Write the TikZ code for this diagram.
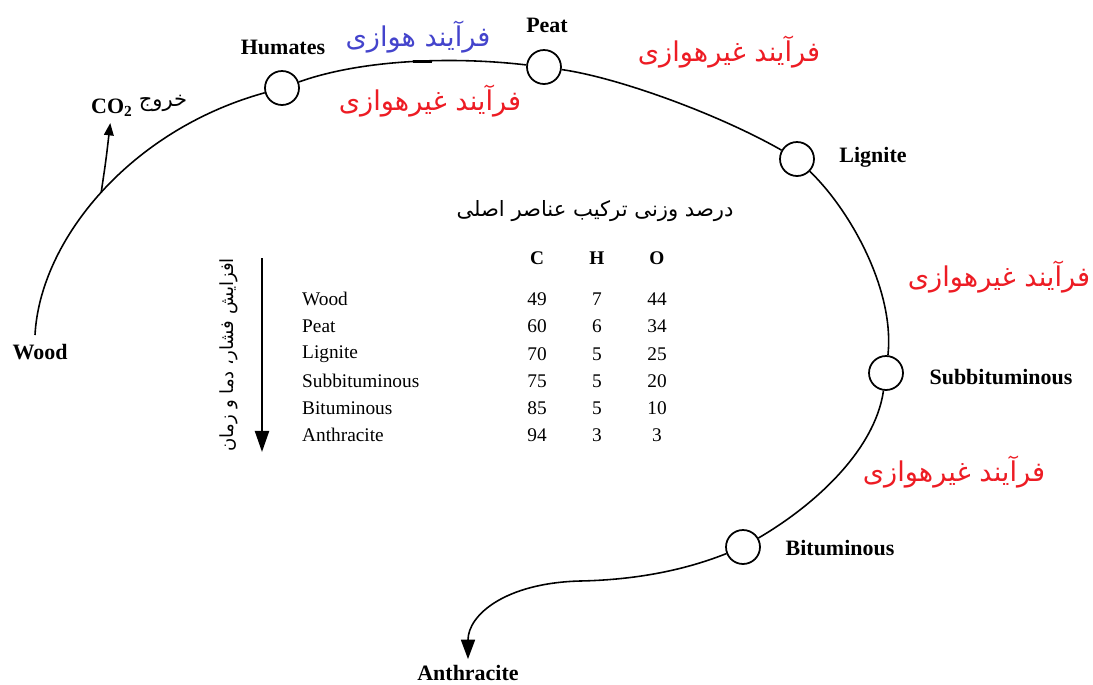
\documentclass[tikz,border=0pt]{standalone}
\usepackage{fontspec}
\setmainfont{Liberation Serif}
\newfontfamily\fafont[Script=Arabic]{DejaVu Sans}
\TeXXeTstate=1
\usetikzlibrary{arrows.meta}
\definecolor{redfa}{RGB}{237,28,36}
\definecolor{bluefa}{RGB}{68,68,204}
\newcommand{\farsi}[1]{\beginR #1\endR}
\tikzstyle{stage} = [circle, draw, line width=1pt, fill=white, minimum size=0.68cm, inner sep=0pt]
\tikzstyle{stagename} = [font=\fontsize{12.5}{14}\selectfont\bfseries]
\tikzstyle{line} = [draw, line width=0.9pt]
\tikzstyle{flow} = [draw, line width=0.9pt, -{Triangle[length=11pt,width=8pt]}]
\tikzstyle{proclabel} = [text=redfa, font=\fafont\fontsize{15.5}{18}\selectfont]
\tikzstyle{cell} = [font=\fontsize{11}{13}\selectfont]
\tikzstyle{head} = [font=\fontsize{11}{13}\selectfont\bfseries]

\begin{document}
\begin{tikzpicture}[x=0.02cm,y=-0.02cm]
\useasboundingbox (0,0) rectangle (1093,684);
      % stages
      \node [stage] (hum) at (282,88) {};
      \node [stage] (peat) at (544,67) {};
      \node [stage] (lig) at (797,159) {};
      \node [stage] (subb) at (886,373) {};
      \node [stage] (bitu) at (743,547) {};

      \node [stagename] (wood) at (40,352) {Wood};
      \node [stagename] (humname) at (283,47) {Humates};
      \node [stagename] (peatname) at (547,25) {Peat};
      \node [stagename] (ligname) at (873,157) {Lignite};
      \node [stagename] (subbname) at (1001,377) {Subbituminous};
      \node [stagename] (bituname) at (840,548) {Bituminous};
      \node [stagename] (anth) at (468,673) {Anthracite};
      \node [stagename] (co2) at (112,108) {CO\textsubscript{2}};
      \node [font=\fafont\fontsize{12}{14}\selectfont] (exit) at (163,103) {\farsi{خروج}};

      % process labels
      \node [proclabel, text=bluefa] (aer) at (418,37) {\farsi{فرآیند هوازی}};
      \node [proclabel] (anaer1) at (430,101) {\farsi{فرآیند غیرهوازی}};
      \node [proclabel] (anaer2) at (729,52) {\farsi{فرآیند غیرهوازی}};
      \node [proclabel] (anaer3) at (999,277) {\farsi{فرآیند غیرهوازی}};
      \node [proclabel] (anaer4) at (954,472) {\farsi{فرآیند غیرهوازی}};

      % the path
      \coordinate (start) at (35,335);
      \path [line] (start) .. controls (40,240) and (130,130) .. (hum) coordinate [pos=0.5] (branch);
      \path [line] (hum) .. controls (360,60) and (450,56) .. (peat);
      \draw [line width=1.8pt] (413,61.5) -- (432,61.5);
      \path [line] (peat) .. controls (620,78) and (720,115) .. (lig);
      \path [line] (lig) .. controls (850,210) and (895,290) .. (subb);
      \path [line] (subb) .. controls (875,450) and (815,505) .. (bitu);
      \path [flow] (bitu) .. controls (680,572) and (630,580) .. (580,581) .. controls (505,583) and (468,615) .. (anth);
      \path [flow, -{Triangle[length=7pt,width=5.5pt]}] (branch) .. controls (106,160) .. (co2);

      % table
      \node [font=\fafont\fontsize{12}{14}\selectfont] (title) at (595,211) {\farsi{درصد وزنی ترکیب عناصر اصلی}};
      \coordinate (atop) at (262,258);
      \coordinate (abot) at (262,452);
      \path [draw, line width=1.2pt, -{Triangle[length=12pt,width=8pt]}] (atop) -- (abot);
      \node [rotate=90, font=\fafont\fontsize{10.3}{12}\selectfont] (incr) at (229,355) {\farsi{افزایش فشار، دما و زمان}};

      \node [head] (hc) at (537,258) {C};
      \node [head] (hh) at (597,258) {H};
      \node [head] (ho) at (657,258) {O};

      \node [cell, anchor=west] (r1) at (296,299) {Wood};
      \node [cell] at (537,299) {49}; \node [cell] at (597,299) {7}; \node [cell] at (657,299) {44};
      \node [cell, anchor=west] (r2) at (296,326) {Peat};
      \node [cell] at (537,326) {60}; \node [cell] at (597,326) {6}; \node [cell] at (657,326) {34};
      \node [cell, anchor=west] (r3) at (296,354) {Lignite};
      \node [cell] at (537,354) {70}; \node [cell] at (597,354) {5}; \node [cell] at (657,354) {25};
      \node [cell, anchor=west] (r4) at (296,381) {Subbituminous};
      \node [cell] at (537,381) {75}; \node [cell] at (597,381) {5}; \node [cell] at (657,381) {20};
      \node [cell, anchor=west] (r5) at (296,408) {Bituminous};
      \node [cell] at (537,408) {85}; \node [cell] at (597,408) {5}; \node [cell] at (657,408) {10};
      \node [cell, anchor=west] (r6) at (296,435) {Anthracite};
      \node [cell] at (537,435) {94}; \node [cell] at (597,435) {3}; \node [cell] at (657,435) {3};
\end{tikzpicture}
\end{document}
